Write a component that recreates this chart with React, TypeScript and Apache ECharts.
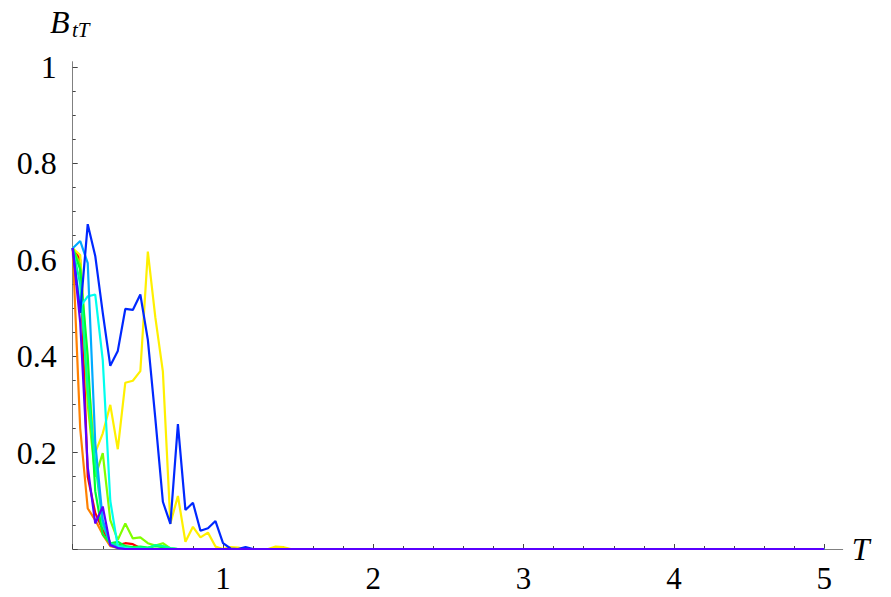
import React, { useEffect, useRef } from "react";
import * as echarts from "echarts";

// Sample grid of T (step 0.05 up to 1.5); every curve is 0 from its last listed value to T = 5
const tGrid = [
  0, 0.05, 0.1, 0.15, 0.2, 0.25, 0.3, 0.35, 0.4, 0.45, 0.5, 0.55, 0.6, 0.65, 0.7,
  0.75, 0.8, 0.85, 0.9, 0.95, 1.0, 1.05, 1.1, 1.15, 1.2, 1.25, 1.3, 1.35, 1.4, 1.45, 1.5,
];
const tEnd = 5;

const redVals = [0.624, 0.6, 0.15, 0.075, 0.04, 0.012, 0.008, 0.012, 0.01, 0.002, 0, 0, 0, 0, 0, 0, 0, 0, 0, 0, 0, 0, 0, 0, 0, 0, 0, 0, 0, 0, 0];
const orangeVals = [0.624, 0.25, 0.084, 0.06, 0.03, 0.006, 0.002, 0, 0, 0, 0, 0, 0, 0, 0, 0, 0, 0, 0, 0, 0, 0, 0, 0, 0, 0, 0, 0, 0, 0, 0];
const yellowVals = [0.624, 0.61, 0.36, 0.2, 0.24, 0.299, 0.207, 0.345, 0.349, 0.369, 0.617, 0.48, 0.368, 0.053, 0.11, 0.015, 0.046, 0.024, 0.034, 0.005, 0, 0.004, 0.003, 0, 0, 0, 0, 0.005, 0.004, 0, 0];
const chartreuseVals = [0.624, 0.59, 0.3, 0.15, 0.199, 0.06, 0.019, 0.053, 0.022, 0.024, 0.012, 0.007, 0.012, 0.001, 0, 0, 0, 0, 0, 0, 0, 0, 0, 0, 0, 0, 0, 0, 0, 0, 0];
const greenVals = [0.624, 0.58, 0.4, 0.12, 0.03, 0.012, 0.015, 0.006, 0.004, 0.005, 0.003, 0.006, 0.004, 0.001, 0, 0, 0, 0, 0, 0, 0, 0, 0, 0, 0, 0, 0, 0, 0, 0, 0];
const springVals = [0.624, 0.55, 0.33, 0.18, 0.05, 0.012, 0.008, 0.004, 0.002, 0.003, 0.002, 0.008, 0.006, 0.002, 0, 0, 0, 0, 0, 0, 0, 0, 0, 0, 0, 0, 0, 0, 0, 0, 0];
const cyanVals = [0.624, 0.503, 0.524, 0.528, 0.392, 0.1, 0.005, 0.002, 0, 0, 0, 0, 0, 0, 0, 0, 0, 0, 0, 0, 0, 0, 0, 0, 0, 0, 0, 0, 0, 0, 0];
const azureVals = [0.624, 0.639, 0.593, 0.22, 0.06, 0.01, 0.002, 0, 0, 0, 0, 0, 0, 0, 0, 0, 0, 0, 0, 0, 0, 0, 0, 0, 0, 0, 0, 0, 0, 0, 0];
const blueVals = [0.624, 0.49, 0.674, 0.608, 0.49, 0.38, 0.411, 0.498, 0.496, 0.528, 0.434, 0.27, 0.098, 0.052, 0.259, 0.081, 0.096, 0.038, 0.043, 0.058, 0.012, 0.001, 0, 0.004, 0, 0, 0, 0, 0, 0, 0];
const violetVals = [0.624, 0.47, 0.17, 0.053, 0.088, 0.008, 0.002, 0, 0, 0, 0, 0, 0, 0, 0, 0, 0, 0, 0, 0, 0, 0, 0, 0, 0, 0, 0, 0, 0, 0, 0];

const seriesList = [
  { name: "red", color: "#ff0000", values: redVals },
  { name: "orange", color: "#ff8000", values: orangeVals },
  { name: "yellow", color: "#fff000", values: yellowVals },
  { name: "chartreuse", color: "#80ff00", values: chartreuseVals },
  { name: "green", color: "#00ff30", values: greenVals },
  { name: "spring", color: "#00ff99", values: springVals },
  { name: "cyan", color: "#00ffee", values: cyanVals },
  { name: "azure", color: "#00aaff", values: azureVals },
  { name: "blue", color: "#0028ff", values: blueVals },
  { name: "violet", color: "#5a00ff", values: violetVals },
];

const xTickLabels = ["", "1", "2", "3", "4", "5"];
const yTickLabels = ["", "0.2", "0.4", "0.6", "0.8", "1"];

const SERIF = "'Liberation Serif', 'DejaVu Serif', serif";

export default function App() {
  const ref = useRef<HTMLDivElement>(null);

  useEffect(() => {
    document.body.style.margin = "0";
    if (!ref.current) return;
    const chart = echarts.init(ref.current, null, { renderer: "svg" });

    const series = seriesList.map((s) => {
      const data: number[][] = tGrid.map((t, i) => [t, s.values[i]]);
      data.push([tEnd, 0]);
      return {
        type: "line",
        name: s.name,
        xAxisIndex: 1,
        yAxisIndex: 1,
        data,
        showSymbol: false,
        symbol: "none",
        lineStyle: { color: s.color, width: 2.2 },
        itemStyle: { color: s.color },
        clip: true,
      };
    });

    const option: any = {
      animation: false,
      backgroundColor: "#ffffff",
      grid: [
        // axis-line grid (axes extend a little past the last tick)
        { left: 72.7, top: 61.7, width: 770, height: 487.3 },
        // data grid
        { left: 72.7, top: 67, width: 751.5, height: 482 },
      ],
      xAxis: [
        {
          type: "value",
          gridIndex: 0,
          min: 0,
          max: 5.123,
          axisLine: { show: true, onZero: false, lineStyle: { color: "#808080", width: 1 } },
          axisTick: { show: false },
          axisLabel: { show: false },
          splitLine: { show: false },
          name: "T",
          nameLocation: "end",
          nameGap: 9,
          nameTextStyle: {
            fontFamily: SERIF,
            fontStyle: "italic",
            fontSize: 32,
            color: "#000",
            verticalAlign: "middle",
          },
        },
        {
          type: "value",
          gridIndex: 1,
          min: 0,
          max: 5,
          interval: 1,
          axisLine: { show: false },
          axisTick: { show: true, inside: true, length: 5, lineStyle: { color: "#444", width: 1 } },
          minorTick: { show: true, splitNumber: 5, length: 3, lineStyle: { color: "#444", width: 1 } },
          axisLabel: {
            formatter: (v: number) => xTickLabels[Math.round(v)] ?? "",
            fontFamily: SERIF,
            fontSize: 31,
            color: "#000",
            margin: 14,
          },
          splitLine: { show: false },
          minorSplitLine: { show: false },
        },
      ],
      yAxis: [
        {
          type: "value",
          gridIndex: 0,
          min: 0,
          max: 1.011,
          axisLine: { show: true, onZero: false, lineStyle: { color: "#808080", width: 1 } },
          axisTick: { show: false },
          axisLabel: { show: false },
          splitLine: { show: false },
        },
        {
          type: "value",
          gridIndex: 1,
          min: 0,
          max: 1,
          interval: 0.2,
          axisLine: { show: false },
          axisTick: { show: true, inside: true, length: 5, lineStyle: { color: "#444", width: 1 } },
          minorTick: { show: true, splitNumber: 4, length: 3, lineStyle: { color: "#444", width: 1 } },
          axisLabel: {
            formatter: (v: number) => yTickLabels[Math.round(v * 5)] ?? "",
            fontFamily: SERIF,
            fontSize: 32,
            color: "#000",
            margin: 16,
          },
          splitLine: { show: false },
          minorSplitLine: { show: false },
        },
      ],
      graphic: [
        {
          type: "text",
          left: 50,
          top: 6,
          style: {
            text: "B",
            font: `italic 32px ${SERIF}`,
            fill: "#000",
          },
        },
        {
          type: "text",
          left: 72,
          top: 19,
          style: {
            text: "tT",
            font: `italic 21px ${SERIF}`,
            fill: "#000",
          },
        },
      ],
      series,
    };

    chart.setOption(option);
    return () => {
      chart.dispose();
    };
  }, []);

  return <div ref={ref} style={{ width: 891, height: 597 }} />;
}
